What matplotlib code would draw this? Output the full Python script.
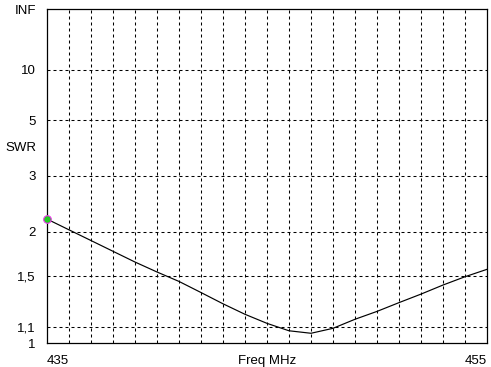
import numpy as np
import matplotlib
matplotlib.use("Agg")
import matplotlib.pyplot as plt

# ---- data ----
freq_mhz = [435, 436, 437, 438, 439, 440, 441, 442, 443, 444, 445,
            446, 447, 448, 449, 450, 451, 452, 453, 454, 455]
swr = [2.18, 2.025, 1.885, 1.757, 1.640, 1.540, 1.452, 1.356, 1.266, 1.188, 1.125,
       1.076, 1.060, 1.092, 1.153, 1.209, 1.275, 1.343, 1.420, 1.495, 1.566]
swr_ticks = [1, 1.1, 1.5, 2, 3, 5, 10, 1e12]
swr_tick_labels = ["1", "1,1", "1,5", "2", "3", "5", "10", "INF"]
grid_swr = [1.1, 1.5, 2, 3, 5, 10]
grid_freq = list(range(436, 455))
x_tick_labels = ["435", "455"]
marker_freq = [435]
marker_swr = [2.18]


def fwd(s):
    s = np.asarray(s, dtype=float)
    return (s - 1.0) / (s + 1.0)


def inv(r):
    r = np.clip(np.asarray(r, dtype=float), -0.999999, 0.9999999999)
    return (1.0 + r) / (1.0 - r)


plt.rcParams['font.family'] = ['Liberation Sans', 'DejaVu Sans']
plt.rcParams['lines.scale_dashes'] = False

W, H = 491, 367
fig = plt.figure(figsize=(W / 100, H / 100), dpi=100)
fig.patch.set_facecolor('white')
L, R, T, B = 47, 487, 9, 343
ax = fig.add_axes([L / W, (H - B) / H, (R - L) / W, (B - T) / H])
ax.set_yscale('function', functions=(fwd, inv))
ax.set_xlim(435, 455)
ax.set_ylim(1, 1e12)

dash = (0, (2.16, 2.16))
for g in grid_swr:
    ax.axhline(g, color='black', lw=0.75, linestyle=dash, zorder=1)
for g in grid_freq:
    ax.axvline(g, color='black', lw=0.75, linestyle=dash, zorder=1)

ax.plot(freq_mhz, swr, color='black', lw=0.85, zorder=3, solid_joinstyle='miter')
ax.plot(marker_freq, marker_swr, 'o', ms=5.5, mfc='#22cc22', mec='#ee33ee',
        mew=0.8, zorder=4, clip_on=False)

FS = 9.5
ax.set_yticks(swr_ticks)
ax.set_yticklabels(swr_tick_labels)
ax.yaxis.set_minor_locator(matplotlib.ticker.NullLocator())
ax.tick_params(axis='y', length=0, pad=8, labelsize=FS, colors='black')
ax.set_xticks([])

for sp in ax.spines.values():
    sp.set_linewidth(0.9)
    sp.set_color('black')

h = B - T
wdt = R - L
base_y = -(364 - B) / h
ax.text(0, base_y, x_tick_labels[0], transform=ax.transAxes, ha='left',
        va='baseline', fontsize=FS)
ax.text(1, base_y, x_tick_labels[1], transform=ax.transAxes, ha='right',
        va='baseline', fontsize=FS)
ax.text(0.5, base_y, "Freq MHz", transform=ax.transAxes, ha='center',
        va='baseline', fontsize=FS)
ax.text((5 - L) / wdt, (B - 148) / h, "SWR", transform=ax.transAxes,
        ha='left', va='center', fontsize=FS)

fig.savefig("out.png", dpi=100, facecolor='white')
